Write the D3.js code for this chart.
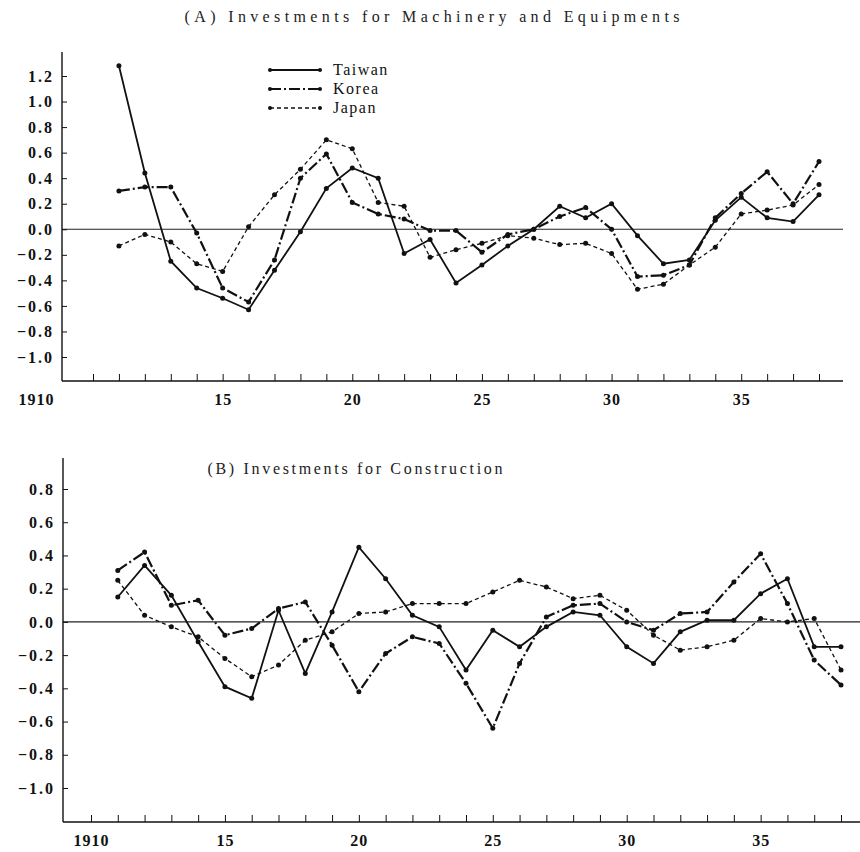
<!DOCTYPE html>
<html>
<head>
<meta charset="utf-8">
<script src="https://cdn.jsdelivr.net/npm/d3@7"></script>
<style>
  body { margin: 0; background: #fff; }
  svg { display: block; }
  .tick text { font-family: "Liberation Serif", "DejaVu Serif", serif; font-weight: bold; fill: #111; }
  .tick line { stroke: #111; }
</style>
</head>
<body>
<div id="chart-area"></div>
<script>
var years = d3.range(1911, 1939);
var tickYears = d3.range(1910, 1939);
var series = ['Taiwan', 'Korea', 'Japan'];

// (A) machinery and equipments
var taiwanA = [1.28, 0.44, -0.25, -0.46, -0.54, -0.63, -0.32, -0.02, 0.32, 0.48, 0.40, -0.19, -0.08, -0.42,
	-0.28, -0.13, 0.0, 0.18, 0.09, 0.20, -0.05, -0.27, -0.24, 0.07, 0.25, 0.09, 0.06, 0.27];
var koreaA = [0.30, 0.33, 0.33, -0.03, -0.46, -0.57, -0.24, 0.40, 0.59, 0.21, 0.12, 0.08, -0.01, -0.01,
	-0.18, -0.04, 0.0, 0.10, 0.17, 0.0, -0.37, -0.36, -0.28, 0.09, 0.28, 0.45, 0.20, 0.53];
var japanA = [-0.13, -0.04, -0.10, -0.27, -0.33, 0.02, 0.27, 0.47, 0.70, 0.63, 0.21, 0.18, -0.22, -0.16,
	-0.11, -0.05, -0.07, -0.12, -0.11, -0.19, -0.47, -0.43, -0.28, -0.14, 0.12, 0.15, 0.19, 0.35];

// (B) construction
var taiwanB = [0.15, 0.34, 0.16, -0.12, -0.39, -0.46, 0.07, -0.31, 0.06, 0.45, 0.26, 0.04, -0.03, -0.29,
	-0.05, -0.15, -0.03, 0.06, 0.04, -0.15, -0.25, -0.06, 0.01, 0.01, 0.17, 0.26, -0.15, -0.15];
var koreaB = [0.31, 0.42, 0.10, 0.13, -0.08, -0.04, 0.08, 0.12, -0.14, -0.42, -0.19, -0.09, -0.13, -0.37,
	-0.64, -0.25, 0.03, 0.10, 0.11, 0.0, -0.05, 0.05, 0.06, 0.24, 0.41, 0.11, -0.23, -0.38];
var japanB = [0.25, 0.04, -0.03, -0.09, -0.22, -0.33, -0.26, -0.11, -0.06, 0.05, 0.06, 0.11, 0.11, 0.11,
	0.18, 0.25, 0.21, 0.14, 0.16, 0.07, -0.08, -0.17, -0.15, -0.11, 0.02, 0.0, 0.02, -0.29];

var yTicksA = [1.2, 1.0, 0.8, 0.6, 0.4, 0.2, 0.0, -0.2, -0.4, -0.6, -0.8, -1.0];
var yTicksB = [0.8, 0.6, 0.4, 0.2, 0.0, -0.2, -0.4, -0.6, -0.8, -1.0];

var lineStyle = {
	Taiwan: { dash: null, width: 1.8 },
	Korea: { dash: '11,3,2,3', width: 2.2 },
	Japan: { dash: '4,3', width: 1.3 }
};

var svg = d3.select('#chart-area').append('svg')
	.attr('width', 860)
	.attr('height', 852);

var serif = '"Liberation Serif", "DejaVu Serif", serif';

function drawPanel(p) {
	var x = d3.scaleLinear().domain([1910, 1938]).range(p.xRange);
	var y = d3.scaleLinear().domain(p.yDomain).range(p.yRange);
	var g = svg.append('g');

	g.append('text')
		.attr('x', p.titleX - p.titleW / 2)
		.attr('y', p.titleY)
		.attr('font-family', serif)
		.attr('font-size', '16px')
		.attr('textLength', p.titleW)
		.attr('lengthAdjust', 'spacing')
		.attr('fill', '#222')
		.text(p.title);

	// zero line
	g.append('line')
		.attr('x1', p.axisX).attr('x2', p.axisEnd)
		.attr('y1', y(0)).attr('y2', y(0))
		.attr('stroke', '#222').attr('stroke-width', 1.2);

	var yAxisCall = d3.axisLeft(y).tickValues(p.yTicks)
		.tickSize(-5).tickSizeOuter(0).tickPadding(8)
		.tickFormat(d => (d < 0 ? '\u2212' : '') + d3.format('.1f')(Math.abs(d)));
	var yAxis = g.append('g')
		.attr('transform', `translate(${p.axisX}, 0)`)
		.call(yAxisCall);
	yAxis.select('.domain').remove();
	yAxis.selectAll('text').attr('font-size', '16px').attr('letter-spacing', '2px');

	var xAxisCall = d3.axisBottom(x).tickValues(tickYears)
		.tickSize(-7).tickSizeOuter(0).tickPadding(13)
		.tickFormat(d => d == 1910 ? '1910' : (d % 5 == 0 ? String(d - 1900) : ''));
	var xAxis = g.append('g')
		.attr('transform', `translate(0, ${p.baseY})`)
		.call(xAxisCall);
	xAxis.select('.domain').remove();
	xAxis.selectAll('text').attr('font-size', '16px').attr('letter-spacing', '1px');
	xAxis.selectAll('.tick').filter(d => d == 1910).select('text').attr('dx', p.firstDx);

	// axis frame
	g.append('line')
		.attr('x1', p.axisX).attr('x2', p.axisX)
		.attr('y1', p.axisTop).attr('y2', p.baseY)
		.attr('stroke', '#111').attr('stroke-width', 1.4);
	g.append('line')
		.attr('x1', p.axisX).attr('x2', p.axisEnd)
		.attr('y1', p.baseY).attr('y2', p.baseY)
		.attr('stroke', '#111').attr('stroke-width', 1.4);

	var line = d3.line().x((d, i) => x(years[i])).y(d => y(d));

	series.forEach(name => {
		var values = p.data[name];
		var st = lineStyle[name];
		g.append('path')
			.datum(values)
			.attr('fill', 'none')
			.attr('stroke', '#111')
			.attr('stroke-width', st.width)
			.attr('stroke-dasharray', st.dash)
			.attr('d', line);

		g.selectAll('.pt-' + name)
			.data(values)
			.enter().append('circle')
			.attr('cx', (d, i) => x(years[i]))
			.attr('cy', d => y(d))
			.attr('r', 2.5)
			.attr('fill', '#111');
	});
}

drawPanel({
	title: '(A) Investments for Machinery and Equipments',
	titleX: 432, titleY: 22, titleW: 495,
	xRange: [93, 819], yDomain: [-1, 1.2], yRange: [357, 76],
	yTicks: yTicksA, axisX: 62, axisTop: 52, baseY: 381, axisEnd: 843,
	firstDx: -57,
	data: { Taiwan: taiwanA, Korea: koreaA, Japan: japanA }
});

drawPanel({
	title: '(B) Investments for Construction',
	titleX: 355, titleY: 474, titleW: 295,
	xRange: [91, 841], yDomain: [-1, 0.8], yRange: [788, 489],
	yTicks: yTicksB, axisX: 63, axisTop: 458, baseY: 822, axisEnd: 860,
	firstDx: 0,
	data: { Taiwan: taiwanB, Korea: koreaB, Japan: japanB }
});

// legend
var legend = svg.append('g').attr('transform', 'translate(270, 70)');
series.forEach((name, i) => {
	var row = legend.append('g').attr('transform', `translate(0, ${i * 19})`);
	row.append('line')
		.attr('x1', 0).attr('x2', 50)
		.attr('stroke', '#111')
		.attr('stroke-width', lineStyle[name].width)
		.attr('stroke-dasharray', lineStyle[name].dash);
	row.selectAll('circle').data([0, 50]).enter().append('circle')
		.attr('cx', d => d).attr('r', 2).attr('fill', '#111');
	row.append('text')
		.attr('x', 63)
		.attr('y', 5)
		.attr('font-family', serif)
		.attr('font-size', '16px')
		.attr('letter-spacing', '1.5px')
		.attr('fill', '#111')
		.text(name);
});
</script>
</body>
</html>
